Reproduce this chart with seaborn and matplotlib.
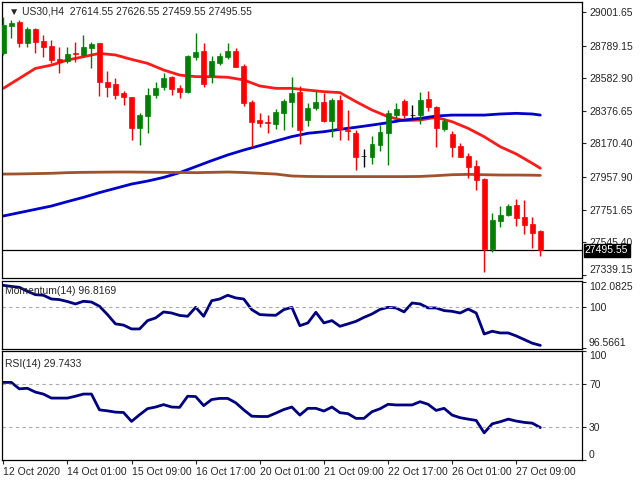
import numpy as np
import pandas as pd
import matplotlib
matplotlib.use("Agg")
import matplotlib.pyplot as plt
import seaborn as sns

sns.set_style("white")
plt.rcParams['font.family'] = ['Liberation Sans', 'DejaVu Sans']

# H4 candles, 68 bars
opens = [28740, 28913, 28940, 28808, 28892, 28820, 28787, 28702, 28694, 28744,
         28730, 28776, 28803, 28561, 28546, 28487, 28462, 28266, 28344, 28477,
         28530, 28588, 28519, 28498, 28719, 28757, 28597, 28681, 28715, 28757,
         28660, 28435, 28319, 28308, 28294, 28365, 28435, 28498, 28319, 28392,
         28435, 28315, 28445, 28256, 28235, 28091, 28087, 28160, 28239, 28350,
         28441, 28350, 28350, 28450, 28403, 28260, 28230, 28154, 28091, 28028,
         27944, 27501, 27683, 27718, 27781, 27704, 27661, 27614.55]
highs = [28972, 28951, 28951, 28909, 28898, 28856, 28825, 28782, 28782, 28814,
         28856, 28814, 28808, 28631, 28582, 28504, 28466, 28361, 28519, 28561,
         28618, 28597, 28540, 28730, 28867, 28808, 28723, 28744, 28808, 28772,
         28673, 28445, 28361, 28350, 28386, 28450, 28593, 28534, 28424, 28504,
         28488, 28456, 28477, 28382, 28256, 28133, 28218, 28287, 28382, 28424,
         28450, 28414, 28498, 28504, 28407, 28329, 28251, 28175, 28112, 28066,
         27950, 27729, 27775, 27788, 27817, 27813, 27708, 27626.55]
lows = [28730, 28835, 28782, 28782, 28740, 28719, 28677, 28614, 28677, 28688,
        28719, 28645, 28471, 28466, 28450, 28414, 28192, 28161, 28235, 28456,
        28508, 28477, 28456, 28487, 28698, 28525, 28550, 28666, 28702, 28652,
        28407, 28150, 28277, 28239, 28260, 28256, 28273, 28167, 28281, 28382,
        28308, 28213, 28192, 28192, 28003, 28024, 28041, 28125, 28034, 28329,
        28329, 28329, 28294, 28378, 28150, 28252, 28087, 28083, 27950, 27876,
        27360, 27487, 27645, 27712, 27649, 27598, 27508, 27459.55]
closes = [28919, 28934, 28808, 28892, 28814, 28782, 28698, 28688, 28736, 28734,
          28778, 28797, 28561, 28530, 28477, 28462, 28266, 28350, 28477, 28519,
          28582, 28513, 28498, 28723, 28751, 28546, 28694, 28723, 28757, 28656,
          28428, 28308, 28298, 28298, 28371, 28441, 28492, 28256, 28392, 28435,
          28315, 28445, 28260, 28252, 28087, 28091, 28167, 28245, 28361, 28386,
          28350, 28350, 28445, 28403, 28266, 28315, 28150, 28087, 28024, 27940,
          27501, 27687, 27718, 27775, 27697, 27655, 27607, 27495.55]

# moving averages, read every second bar
ma_idx = [0, 2, 4, 6, 8, 10, 12, 14, 16, 18, 20, 22, 24, 26, 28, 30, 32, 34,
          36, 38, 40, 42, 44, 46, 48, 50, 52, 54, 56, 58, 60, 62, 64, 66, 67]
ma_fast = [28519, 28582, 28645, 28666, 28698, 28719, 28740, 28730, 28702, 28677,
           28635, 28603, 28593, 28593, 28589, 28572, 28534, 28519, 28519, 28508,
           28498, 28492, 28435, 28382, 28340, 28315, 28319, 28336, 28308, 28266,
           28213, 28150, 28104, 28045, 28014]
ma_mid = [27712, 27733, 27754, 27775, 27803, 27830, 27860, 27887, 27914, 27933,
          27956, 27986, 28024, 28062, 28098, 28129, 28157, 28186, 28214, 28235,
          28245, 28260, 28273, 28287, 28302, 28319, 28329, 28344, 28350, 28350,
          28350, 28357, 28361, 28357, 28350]
ma_slow = [27977, 27978, 27980, 27982, 27986, 27988, 27989, 27990, 27990, 27989,
           27988, 27987, 27986, 27988, 27990, 27987, 27982, 27977, 27965, 27962,
           27961, 27961, 27961, 27961, 27961, 27961, 27962, 27967, 27973, 27975,
           27973, 27971, 27971, 27970, 27969]

momentum = [101.79, 101.7, 101.63, 101.3, 101.02, 100.97, 100.66, 100.61, 100.45, 100.25,
            100.47, 100.41, 100.06, 99.37, 98.6, 98.5, 98.18, 98.18, 98.87, 99.09,
            99.59, 99.5, 99.3, 99.23, 99.97, 99.23, 100.52, 100.66, 100.97, 100.75,
            100.66, 99.78, 99.37, 99.33, 99.31, 99.78, 99.97, 98.45, 98.68, 99.56,
            98.68, 98.87, 98.4, 98.6, 98.81, 99.14, 99.42, 99.8, 99.97, 99.92,
            99.59, 100.33, 100.25, 99.92, 99.92, 99.7, 99.64, 99.5, 99.83, 99.5,
            97.76, 97.99, 97.85, 97.85, 97.6, 97.3, 97.0, 96.82]
rsi = [71.2, 71.2, 65.3, 65.8, 62.3, 60.5, 56.8, 56.8, 56.8, 58.5,
       60.5, 60.5, 46.0, 45.1, 43.9, 43.6, 35.4, 41.5, 47.1, 48.6,
       50.8, 48.6, 48.3, 58.5, 58.2, 49.9, 55.5, 56.5, 56.5, 52.5,
       46.0, 40.2, 39.9, 39.9, 43.0, 46.3, 48.6, 41.2, 47.4, 47.4,
       44.9, 48.6, 43.4, 42.5, 38.2, 38.2, 44.3, 47.0, 51.1, 50.5,
       50.5, 50.5, 53.5, 51.1, 45.5, 47.4, 41.2, 38.8, 37.5, 36.3,
       24.9, 33.2, 35.1, 37.5, 35.7, 34.5, 33.8, 29.74]

price_ticks = [29001.65, 28789.15, 28582.90, 28376.65, 28170.40,
               27957.90, 27751.65, 27545.40, 27339.15]
date_idx = [0, 8, 16, 24, 32, 40, 48, 56, 64]
date_labels = ["12 Oct 2020", "14 Oct 01:00", "15 Oct 09:00", "16 Oct 17:00",
               "20 Oct 01:00", "21 Oct 09:00", "22 Oct 17:00", "26 Oct 01:00",
               "27 Oct 09:00"]
last_price = 27495.55

df = pd.DataFrame({"o": opens, "h": highs, "l": lows, "c": closes})
df["i"] = np.arange(len(df))
colors = np.where(df["c"] > df["o"], "#008000", np.where(df["c"] < df["o"], "#ff0000", "black"))

W, H = 640, 480
fig = plt.figure(figsize=(6.4, 4.8), dpi=100)
def box(x0, y0, x1, y1):
    return [x0 / W, 1 - y1 / H, (x1 - x0) / W, (y1 - y0) / H]

ax1 = fig.add_axes(box(2, 2, 582, 278))
ax2 = fig.add_axes(box(2, 281, 582, 349), sharex=ax1)
ax3 = fig.add_axes(box(2, 351, 582, 460), sharex=ax1)

xmin, xmax = -0.16, 72.2

# candles
ax1.vlines(df["i"], df["l"], df["h"], colors=colors, lw=1, zorder=3)
body = (df["c"] - df["o"]).abs().clip(lower=3)
ax1.bar(df["i"], body, bottom=df[["o", "c"]].min(axis=1), width=0.62,
        color=colors, edgecolor=colors, lw=0.5, zorder=4)
ma = pd.DataFrame({"i": ma_idx, "fast": ma_fast, "mid": ma_mid, "slow": ma_slow})
sns.lineplot(data=ma, x="i", y="fast", ax=ax1, color="#ff1a1a", lw=2, zorder=2)
sns.lineplot(data=ma, x="i", y="mid", ax=ax1, color="#0000cc", lw=2, zorder=2)
sns.lineplot(data=ma, x="i", y="slow", ax=ax1, color="#a0522d", lw=2, zorder=2)
ax1.axhline(last_price, color="black", lw=0.9, zorder=1)
ax1.set_ylim(27320, 29065)
ax1.set_xlim(xmin, xmax)
ax1.set_yticks(price_ticks)
ax1.set_yticklabels([f"{t:.2f}" for t in price_ticks])
ax1.text(0.012, 0.985, "\u25bc US30,H4  27614.55 27626.55 27459.55 27495.55",
         transform=ax1.transAxes, fontsize=7.5, va="top", ha="left")
ax1.text(1.005, last_price, f"{last_price:.2f}", transform=ax1.get_yaxis_transform(),
         fontsize=7.5, color="white", va="center", ha="left", zorder=10,
         bbox=dict(facecolor="black", edgecolor="black", pad=1))

# momentum
mdf = pd.DataFrame({"i": np.arange(len(momentum)), "v": momentum})
sns.lineplot(data=mdf, x="i", y="v", ax=ax2, color="#000080", lw=2)
ax2.axhline(100, color="#aaaaaa", lw=0.8, ls=(0, (3, 3)))
ax2.set_ylim(96.52, 102.15)
ax2.set_yticks([102.0825, 100, 96.5661])
ax2.set_yticklabels(["102.0825", "100", "96.5661"])
ax2.text(0.005, 0.93, "Momentum(14) 96.8169", transform=ax2.transAxes,
         fontsize=7.5, va="top", ha="left")

# rsi
rdf = pd.DataFrame({"i": np.arange(len(rsi)), "v": rsi})
sns.lineplot(data=rdf, x="i", y="v", ax=ax3, color="#000080", lw=2)
for lv in (70, 30):
    ax3.axhline(lv, color="#aaaaaa", lw=0.8, ls=(0, (3, 3)))
ax3.set_ylim(0, 100)
ax3.set_yticks([100, 70, 30, 0])
ax3.set_yticklabels(["100", "70", "30", "0"])
ax3.text(0.005, 0.93, "RSI(14) 29.7433", transform=ax3.transAxes,
         fontsize=7.5, va="top", ha="left")

for ax in (ax1, ax2, ax3):
    ax.yaxis.tick_right()
    ax.tick_params(axis="y", labelsize=7.5, length=3, direction="out", right=True, pad=2)
    ax.set_xlabel("")
    ax.set_ylabel("")
    for s in ax.spines.values():
        s.set_color("black")
        s.set_linewidth(0.9)
for ax in (ax1, ax2):
    ax.tick_params(axis="x", bottom=False, labelbottom=False)

# MT4 style: edge labels sit inside the panel
for ax in (ax2, ax3):
    labs = ax.get_yticklabels()
    labs[0].set_va("top")
    labs[-1].set_va("bottom")
ax1.get_yticklabels()[-1].set_va("bottom")

ax3.set_xticks(date_idx)
ax3.set_xticklabels(date_labels, ha="left")
ax3.tick_params(axis="x", labelsize=7.5, length=3, bottom=True, pad=2)

fig.savefig("out.png", dpi=100)
